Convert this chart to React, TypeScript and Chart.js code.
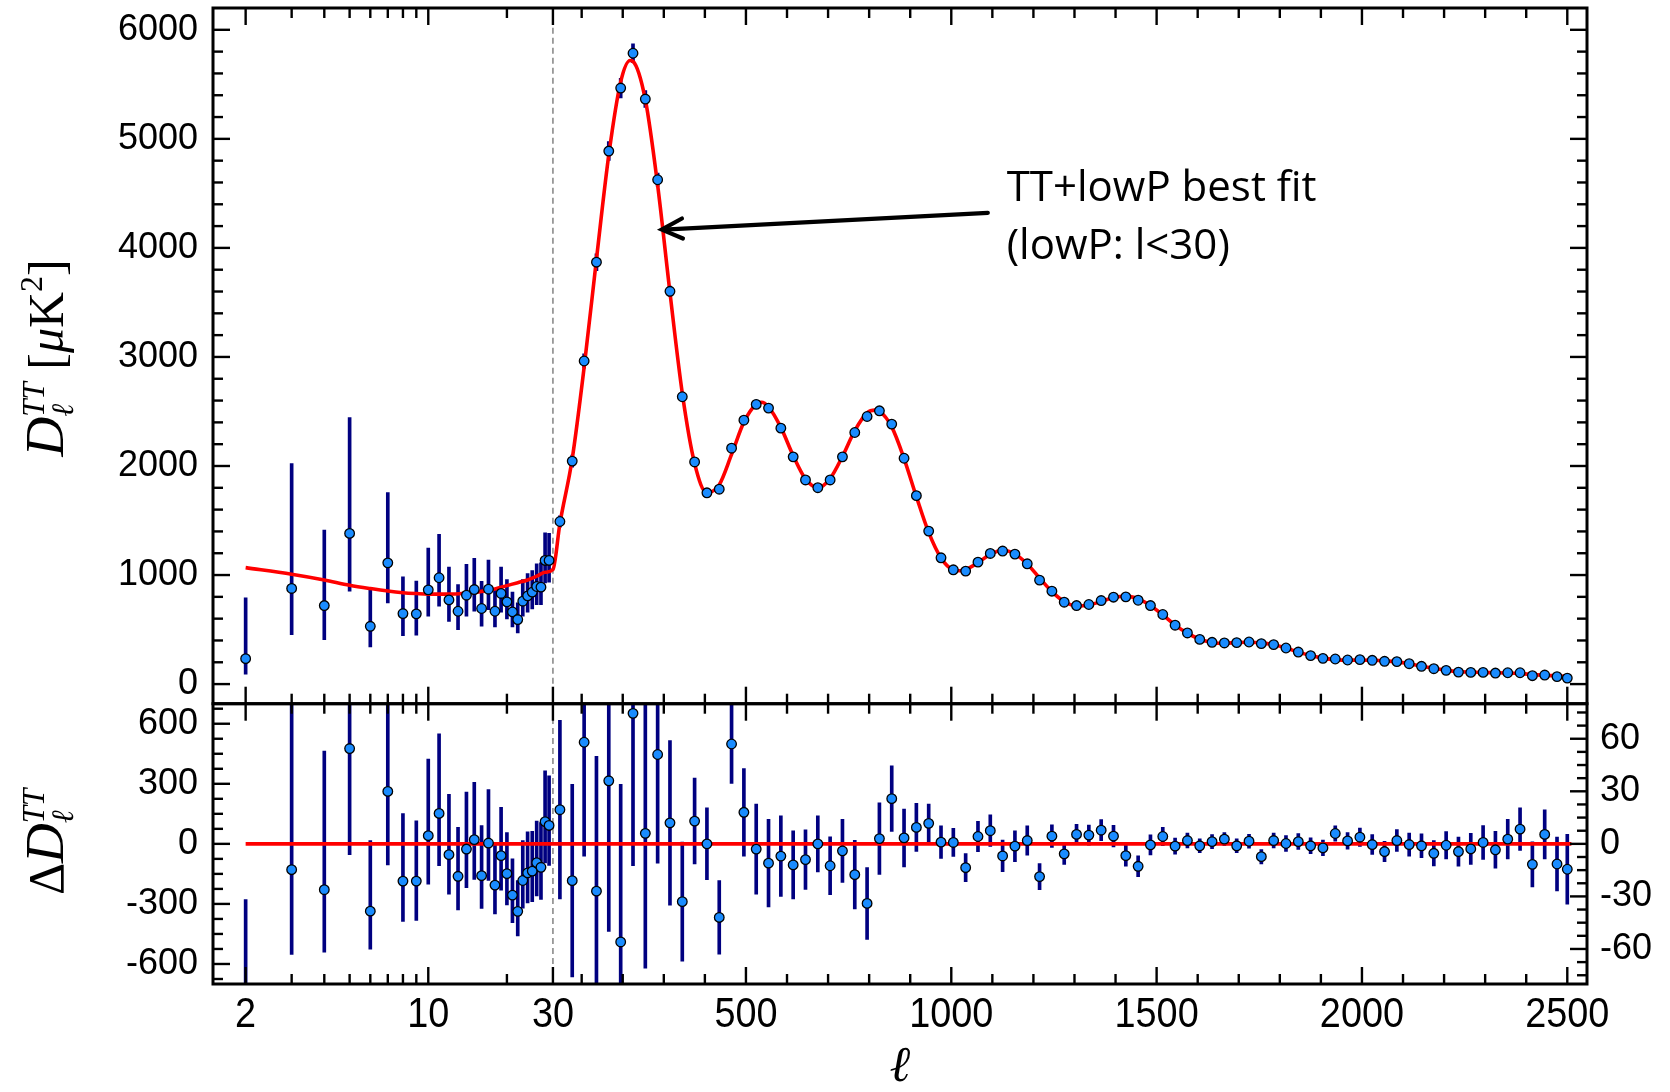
import React, { useEffect, useRef } from 'react';
import { Chart, registerables, LinearScale } from 'chart.js';

// ---------------- data ----------------
const LOW_L = [2, 3, 4, 5, 6, 7, 8, 9, 10, 11, 12, 13, 14, 15, 16, 17, 18, 19, 20, 21, 22, 23, 24, 25, 26, 27, 28, 29];
const LOW_D = [233, 877, 720, 1382, 530, 1112, 647, 644, 864, 975, 772, 668, 815, 867, 693, 870, 668, 831, 754, 662, 592, 760, 809, 843, 895, 889, 1134, 1134];
const LOW_ERR_UP = [557, 1145, 693, 1063, 352, 644, 337, 301, 383, 398, 301, 245, 284, 286, 250, 267, 199, 242, 205, 181, 153, 199, 205, 199, 208, 223, 254, 248];
const LOW_ERR_DN = [141, 423, 312, 530, 190, 367, 202, 196, 242, 261, 197, 168, 193, 199, 163, 187, 144, 172, 156, 138, 123, 138, 150, 153, 166, 160, 206, 200];
const LOW_RES = [-835, -129, -229, 476, -336, 262, -186, -186, 41, 152, -54, -162, -26, 21, -159, 4, -206, -59, -149, -256, -337, -183, -145, -136, -94, -117, 111, 92];

const HIGH_L = [47, 77, 106, 136, 166, 195, 225, 255, 285, 315, 345, 375, 405, 435, 465, 495,
  525, 555, 585, 615, 645, 675, 705, 735, 765, 795, 825, 855, 885, 915, 945, 975, 1005,
  1035, 1065, 1095, 1125, 1155, 1185, 1215, 1245, 1275, 1305, 1335, 1365, 1395, 1425, 1455, 1485, 1515,
  1545, 1575, 1605, 1635, 1665, 1695, 1725, 1755, 1785, 1815, 1845, 1875, 1905, 1935, 1965, 1995, 2025,
  2055, 2085, 2115, 2145, 2175, 2205, 2235, 2265, 2295, 2325, 2355, 2385, 2415, 2445, 2475,
  2500];
const HIGH_D = [1491, 2045, 2963, 3869, 4888, 5466, 5785, 5365, 4625, 3602, 2635, 2037, 1754, 1787, 2163, 2420,
  2565, 2531, 2347, 2084, 1872, 1801, 1872, 2084, 2307, 2454, 2506, 2384, 2071, 1728, 1403, 1158, 1048,
  1036, 1118, 1198, 1220, 1192, 1103, 953, 852, 751, 720, 730, 766, 797, 800, 769, 720, 638,
  540, 469, 410, 383, 377, 380, 386, 371, 362, 331, 294, 261, 236, 230, 221, 224, 218,
  209, 206, 187, 163, 141, 126, 110, 107, 107, 101, 104, 104, 77, 83, 68,
  55];
const HIGH_RES = [19.5, -21, 58, -27, 36, -56, 74.5, 6, 51, 12, -33, 13, 0, -42, 57, 18,
  -3, -11, -7, -12, -9, 0, -12.5, -4, -17.6, -34, 3, 25.8, 3.4, 9.4, 11.7, 1, 0.8,
  -13.6, 4.2, 7.5, -6.9, -1.3, 1.9, -18.7, 4.4, -5.7, 5.4, 5, 7.8, 4.4, -6.7, -12.8, -0.6, 4.2,
  -1.3, 1.9, -1.1, 1.3, 2.7, -1.1, 1.5, -7.3, 1.9, 0.2, 1.3, -1.1, -2.3, 5.9, 1.7, 3.8, -0.4,
  -4.4, 1.9, -0.4, -1.1, -5.4, -0.8, -4.4, -2.9, 0.8, -3.4, 2.7, 8.4, -11.7, 5.4, -11.5,
  -14.5];
const HIGH_ERR = [51, 55, 65, 77, 86, 90, 87, 77, 62, 47, 34, 24.5, 20.5, 21, 22.5, 25,
  25.7, 25, 23, 19.5, 17, 16, 16.5, 18, 19.6, 20.5, 20.4, 18.7, 16.5, 13.7, 11, 9.3, 8,
  8, 8.6, 9, 9, 8.8, 8.4, 7.5, 6.5, 6, 5.8, 5.7, 6, 6.2, 6, 6, 5.7, 5.2,
  4.6, 4.2, 4, 4, 3.8, 4, 4, 4.1, 4.2, 4.5, 4.5, 4.5, 4.4, 4.4, 4.8, 5.2, 5.7,
  5.8, 6.2, 6.6, 6.8, 7.2, 7.8, 8.3, 8.9, 9.7, 10.5, 11.3, 12.2, 12.9, 14, 15.3,
  20];

const FIT_L = [2, 3, 4, 5, 6, 7, 8, 9, 10, 12, 14, 16, 18, 20, 22, 24, 26, 28, 30,
  47, 77, 106, 136, 166, 195, 218, 225, 255, 285, 315, 345, 375, 405, 435, 465, 495, 525, 538, 555,
  585, 615, 645, 675, 705, 735, 765, 795, 815, 825,
  855, 885, 915, 945, 975, 1005, 1020, 1035,
  1065, 1095, 1125, 1155, 1185, 1215, 1245, 1275, 1305, 1335,
  1365, 1395, 1425, 1455, 1485, 1515, 1545, 1575, 1605, 1635,
  1665, 1695, 1725, 1755, 1785, 1815, 1845, 1875, 1905, 1935,
  1965, 1995, 2025, 2055, 2085, 2115, 2145, 2175, 2205, 2235,
  2265, 2295, 2325, 2355, 2385, 2415, 2445, 2475, 2505];
const FIT_D = [1068, 1008, 955, 907, 876, 853, 838, 830, 825, 825, 835, 850, 873, 903, 930, 955, 990, 1025, 1050,
  1472, 2066, 2905, 3896, 4852, 5522, 5718, 5710, 5359, 4574, 3590, 2668, 2024, 1754, 1829, 2106, 2402, 2568, 2585, 2542,
  2354, 2096, 1881, 1801, 1885, 2088, 2325, 2488, 2512, 2503,
  2358, 2068, 1719, 1391, 1157, 1047, 1040, 1050,
  1114, 1190, 1227, 1193, 1101, 972, 848, 757, 715, 725,
  758, 793, 807, 782, 721, 634, 541, 467, 411, 382,
  374, 381, 384, 378, 360, 331, 293, 262, 238, 224,
  219, 220, 218, 213, 204, 187, 164, 146, 127, 114,
  110, 106, 104, 101, 96, 88, 79, 76, 70];

// tick values / labels
const X_MAJOR = [2, 10, 30, 500, 1000, 1500, 2000, 2500];
const X_LABELS = ['2', '10', '30', '500', '1000', '1500', '2000', '2500'];
const X_MINOR = [3, 4, 5, 6, 7, 8, 9, 20, 100, 200, 300, 400, 600, 700, 800, 900, 1100, 1200, 1300, 1400,
  1600, 1700, 1800, 1900, 2100, 2200, 2300, 2400];
const TOP_TICKS = [0, 1000, 2000, 3000, 4000, 5000, 6000];
const RES_L_TICKS = [-600, -300, 0, 300, 600];
const RES_R_TICKS = [-60, -30, 0, 30, 60];

// annotation
const NOTE_LINES = ['TT+lowP best fit', '(lowP: l<30)'];

// ---------------- hybrid log/linear ell axis ----------------
const L_MIN = 1.5;
const L_BREAK = 30;
const L_MAX = 2548;
const LOG_FRAC = 0.2474;

function toDecimal(v: number) {
  if (v <= L_BREAK) {
    const vv = Math.max(v, 1e-3);
    return LOG_FRAC * Math.log(vv / L_MIN) / Math.log(L_BREAK / L_MIN);
  }
  return LOG_FRAC + (1 - LOG_FRAC) * (v - L_BREAK) / (L_MAX - L_BREAK);
}
function fromDecimal(d: number) {
  if (d <= LOG_FRAC) return L_MIN * Math.pow(L_BREAK / L_MIN, d / LOG_FRAC);
  return L_BREAK + (d - LOG_FRAC) / (1 - LOG_FRAC) * (L_MAX - L_BREAK);
}

class HybridScale extends (LinearScale as any) {
  static id = 'hybrid';
  static defaults = {};
  determineDataLimits() {
    this.min = L_MIN;
    this.max = L_MAX;
  }
  buildTicks() {
    return X_MAJOR.map((v) => ({ value: v }));
  }
  getPixelForValue(value: number) {
    return this.getPixelForDecimal(toDecimal(value));
  }
  getValueForPixel(pixel: number) {
    return fromDecimal(this.getDecimalForPixel(pixel));
  }
}

Chart.register(...registerables, HybridScale as any);

// ---------------- styles ----------------
const NAVY = '#000080';
const BLUE = '#1a8cff';
const RED = '#ff0000';
const SERIF = '"Liberation Serif", "DejaVu Serif", serif';
const SANS = '"Liberation Sans", Arial, Helvetica, sans-serif';
const ital = (n: number) => `italic ${n}px ${SERIF}`;
const rom = (n: number) => `${n}px ${SERIF}`;
const MAJ = 17;
const MIN = 10;

type Run = { t?: string; f?: string; dy?: number; stack?: { t: string; f: string; dy: number }[] };

function runsWidth(ctx: CanvasRenderingContext2D, runs: Run[]) {
  let w = 0;
  for (const r of runs) {
    if (r.stack) {
      let m = 0;
      for (const s of r.stack) { ctx.font = s.f; m = Math.max(m, ctx.measureText(s.t).width); }
      w += m;
    } else { ctx.font = r.f!; w += ctx.measureText(r.t!).width; }
  }
  return w;
}
function drawRuns(ctx: CanvasRenderingContext2D, runs: Run[], x0: number, y0: number) {
  let x = x0;
  for (const r of runs) {
    if (r.stack) {
      let m = 0;
      for (const s of r.stack) {
        ctx.font = s.f;
        ctx.fillText(s.t, x, y0 + s.dy);
        m = Math.max(m, ctx.measureText(s.t).width);
      }
      x += m;
    } else {
      ctx.font = r.f!;
      ctx.fillText(r.t!, x, y0 + (r.dy || 0));
      x += ctx.measureText(r.t!).width;
    }
  }
}

const decorPlugin = {
  id: 'decor',
  afterDraw(chart: any) {
    const { ctx, chartArea } = chart;
    const xs = chart.scales.x;
    const yT = chart.scales.yT;
    const yB = chart.scales.yB;
    const yB2 = chart.scales.yB2;
    const L = chartArea.left;
    const R = chartArea.right;
    ctx.save();
    ctx.strokeStyle = '#000';
    ctx.fillStyle = '#000';
    ctx.lineCap = 'butt';
    ctx.lineWidth = 2.4;
    const seg = (x1: number, y1: number, x2: number, y2: number) => {
      ctx.beginPath(); ctx.moveTo(x1, y1); ctx.lineTo(x2, y2); ctx.stroke();
    };
    // x ticks on both edges of both panels (inward)
    for (const p of [yT, yB]) {
      for (const v of X_MAJOR) {
        const px = xs.getPixelForValue(v);
        seg(px, p.bottom, px, p.bottom - MAJ);
        seg(px, p.top, px, p.top + MAJ);
      }
      for (const v of X_MINOR) {
        const px = xs.getPixelForValue(v);
        seg(px, p.bottom, px, p.bottom - MIN);
        seg(px, p.top, px, p.top + MIN);
      }
    }
    // y ticks
    const yTicks = (scale: any, step: number, majorEvery: number, lo: number, hi: number, left: boolean, right: boolean) => {
      for (let k = Math.ceil(lo / step); k * step <= hi + 1e-9; k++) {
        const v = k * step;
        const isMaj = Math.abs(v / majorEvery - Math.round(v / majorEvery)) < 1e-6;
        const len = isMaj ? MAJ : MIN;
        const py = scale.getPixelForValue(v);
        if (left) seg(L, py, L + len, py);
        if (right) seg(R, py, R - len, py);
      }
    };
    yTicks(yT, 200, 1000, 0, 6000, true, true);
    yTicks(yB, 75, 300, -675, 675, true, false);
    yTicks(yB2, 7.5, 30, -75, 75, false, true);
    // frames
    ctx.lineWidth = 3;
    ctx.strokeRect(L, yT.top, R - L, yT.bottom - yT.top);
    ctx.strokeRect(L, yB.top, R - L, yB.bottom - yB.top);

    // x tick labels (narrow, tall)
    ctx.font = `43px ${SANS}`;
    ctx.textAlign = 'center';
    ctx.textBaseline = 'middle';
    X_MAJOR.forEach((v, i) => {
      const px = xs.getPixelForValue(v);
      ctx.save();
      ctx.translate(px, chartArea.bottom + 31);
      ctx.scale(0.88, 1);
      ctx.fillText(X_LABELS[i], 0, 0);
      ctx.restore();
    });

    // x title
    ctx.font = ital(50);
    ctx.fillText('\u2113', (L + R) / 2, chartArea.bottom + 84);

    // y titles
    ctx.textAlign = 'left';
    ctx.textBaseline = 'alphabetic';
    const topRuns: Run[] = [
      { t: 'D', f: ital(55) },
      { stack: [{ t: 'TT', f: ital(31), dy: -19 }, { t: '\u2113', f: ital(31), dy: 10 }] },
      { t: ' [', f: rom(50) },
      { t: '\u03bc', f: ital(50) },
      { t: 'K', f: rom(50) },
      { t: '2', f: rom(32), dy: -21 },
      { t: ']', f: rom(50) },
    ];
    ctx.save();
    ctx.translate(63, (yT.top + yT.bottom) / 2 + 2);
    ctx.rotate(-Math.PI / 2);
    drawRuns(ctx, topRuns, -runsWidth(ctx, topRuns) / 2, 0);
    ctx.restore();

    const botRuns: Run[] = [
      { t: '\u0394', f: rom(50) },
      { t: 'D', f: ital(55) },
      { stack: [{ t: 'TT', f: ital(31), dy: -19 }, { t: '\u2113', f: ital(31), dy: 10 }] },
    ];
    ctx.save();
    ctx.translate(63, (yB.top + yB.bottom) / 2 - 2);
    ctx.rotate(-Math.PI / 2);
    drawRuns(ctx, botRuns, -runsWidth(ctx, botRuns) / 2, 0);
    ctx.restore();

    // annotation text
    ctx.font = `42px "Open Sans", ${SANS}`;
    ctx.textBaseline = 'middle';
    ctx.textAlign = 'left';
    ctx.fillText(NOTE_LINES[0], xs.getPixelForValue(1135), yT.getPixelForValue(4540));
    ctx.fillText(NOTE_LINES[1], xs.getPixelForValue(1135), yT.getPixelForValue(4010));

    // arrow
    const hx = xs.getPixelForValue(295), hy = yT.getPixelForValue(4168);
    const tx = xs.getPixelForValue(1089), ty = yT.getPixelForValue(4321);
    ctx.lineWidth = 4.2;
    ctx.lineCap = 'round';
    seg(tx, ty, hx + 2, hy);
    const ang = Math.atan2(ty - hy, tx - hx);
    const a = 0.45, len = 23;
    ctx.beginPath();
    ctx.moveTo(hx + len * Math.cos(ang - a), hy + len * Math.sin(ang - a));
    ctx.lineTo(hx, hy);
    ctx.lineTo(hx + len * Math.cos(ang + a), hy + len * Math.sin(ang + a));
    ctx.lineJoin = 'miter';
    ctx.stroke();
    ctx.restore();
  },
};

const noPad = (s: any) => {
  s.paddingTop = 0;
  s.paddingBottom = 0;
  s.paddingLeft = 0;
  s.paddingRight = 0;
};

function buildConfig() {
  const lowIdx = LOW_L.map((_, i) => i);
  const highIdx = HIGH_L.map((_, i) => i);

  const errTop = [
    ...lowIdx.map((i) => ({ x: LOW_L[i], y: [LOW_D[i] - LOW_ERR_DN[i], LOW_D[i] + LOW_ERR_UP[i]] })),
    ...highIdx.map((i) => ({ x: HIGH_L[i], y: [HIGH_D[i] - HIGH_ERR[i], HIGH_D[i] + HIGH_ERR[i]] })),
  ];
  const errLowRes = lowIdx.map((i) => ({ x: LOW_L[i], y: [LOW_RES[i] - LOW_ERR_DN[i], LOW_RES[i] + LOW_ERR_UP[i]] }));
  const errHighRes = highIdx.map((i) => ({ x: HIGH_L[i], y: [HIGH_RES[i] - HIGH_ERR[i], HIGH_RES[i] + HIGH_ERR[i]] }));

  const ptsTop = [
    ...lowIdx.map((i) => ({ x: LOW_L[i], y: LOW_D[i] })),
    ...highIdx.map((i) => ({ x: HIGH_L[i], y: HIGH_D[i] })),
  ];
  const ptsLowRes = lowIdx.map((i) => ({ x: LOW_L[i], y: LOW_RES[i] }));
  const ptsHighRes = highIdx.map((i) => ({ x: HIGH_L[i], y: HIGH_RES[i] }));
  const fit = FIT_L.map((l, i) => ({ x: l, y: FIT_D[i] }));

  const barCommon = {
    type: 'bar',
    backgroundColor: NAVY,
    borderWidth: 0,
    barThickness: 3,
    maxBarThickness: 3,
    grouped: false,
    order: 3,
  };
  const ptCommon = {
    type: 'scatter',
    showLine: false,
    pointRadius: 4.8,
    pointBackgroundColor: BLUE,
    pointBorderColor: '#000',
    pointBorderWidth: 1.3,
    order: 0,
  };
  const dashCommon = {
    type: 'line',
    borderColor: '#8a8a8a',
    borderWidth: 1.6,
    borderDash: [6, 4],
    pointRadius: 0,
    order: 4,
  };

  const tickFont = { family: SANS, size: 36 };
  const yBase = {
    type: 'linear',
    bounds: 'data',
    beginAtZero: false,
    grid: { display: false, drawTicks: false },
    border: { display: false },
  };

  return {
    type: 'scatter',
    data: {
      datasets: [
        { ...dashCommon, yAxisID: 'yT', data: [{ x: 30, y: -180 }, { x: 30, y: 6200 }] },
        { ...dashCommon, yAxisID: 'yB', data: [{ x: 30, y: -700 }, { x: 30, y: 700 }] },
        { ...barCommon, yAxisID: 'yT', data: errTop },
        { ...barCommon, yAxisID: 'yB', data: errLowRes },
        { ...barCommon, yAxisID: 'yB2', data: errHighRes },
        {
          type: 'line', yAxisID: 'yT', data: fit, borderColor: RED, borderWidth: 3.6,
          pointRadius: 0, cubicInterpolationMode: 'monotone', order: 1,
        },
        {
          type: 'line', yAxisID: 'yB', data: [{ x: 2, y: 0 }, { x: 2510, y: 0 }],
          borderColor: RED, borderWidth: 3.6, pointRadius: 0, order: 1,
        },
        { ...ptCommon, yAxisID: 'yT', data: ptsTop },
        { ...ptCommon, yAxisID: 'yB', data: ptsLowRes },
        { ...ptCommon, yAxisID: 'yB2', data: ptsHighRes },
      ],
    },
    options: {
      responsive: false,
      animation: false,
      devicePixelRatio: 1,
      events: [],
      layout: { padding: { top: 8, left: 0, right: 0, bottom: 0 } },
      plugins: { legend: { display: false }, tooltip: { enabled: false }, title: { display: false } },
      scales: {
        x: {
          type: 'hybrid',
          position: 'bottom',
          offset: false,
          grid: { display: false, drawTicks: false, offset: false },
          border: { display: false },
          ticks: { display: false },
          afterFit: (s: any) => { s.height = 108; noPad(s); },
        },
        yB: {
          ...yBase,
          position: 'left',
          stack: 'left',
          stackWeight: 280,
          min: -700,
          max: 700,
          ticks: { font: tickFont, color: '#000', padding: 15, autoSkip: false, callback: (v: any) => String(v) },
          afterBuildTicks: (s: any) => { s.ticks = RES_L_TICKS.map((v) => ({ value: v })); },
          afterFit: (s: any) => { s.width = 213; noPad(s); },
        },
        yT: {
          ...yBase,
          position: 'left',
          stack: 'left',
          stackWeight: 695,
          min: -180,
          max: 6200,
          ticks: { font: tickFont, color: '#000', padding: 15, autoSkip: false, callback: (v: any) => String(v) },
          afterBuildTicks: (s: any) => { s.ticks = TOP_TICKS.map((v) => ({ value: v })); },
          afterFit: (s: any) => { s.width = 213; noPad(s); },
        },
        yTR: {
          ...yBase,
          position: 'right',
          stack: 'right',
          stackWeight: 695,
          min: -180,
          max: 6200,
          ticks: { display: false },
          afterFit: (s: any) => { s.width = 83; noPad(s); },
        },
        yB2: {
          ...yBase,
          position: 'right',
          stack: 'right',
          stackWeight: 280,
          min: -80,
          max: 80,
          ticks: { font: tickFont, color: '#000', padding: 13, autoSkip: false, callback: (v: any) => String(v) },
          afterBuildTicks: (s: any) => { s.ticks = RES_R_TICKS.map((v) => ({ value: v })); },
          afterFit: (s: any) => { s.width = 83; noPad(s); },
        },
      },
    },
    plugins: [decorPlugin],
  };
}

export default function App() {
  const ref = useRef<HTMLCanvasElement | null>(null);
  useEffect(() => {
    if (!ref.current) return;
    const chart = new Chart(ref.current, buildConfig() as any);
    return () => chart.destroy();
  }, []);
  return (
    <div style={{ position: 'absolute', left: 0, top: 0, width: 1670, height: 1092, background: '#fff' }}>
      <canvas ref={ref} width={1670} height={1092} style={{ display: 'block', width: '1670px', height: '1092px' }} />
    </div>
  );
}
